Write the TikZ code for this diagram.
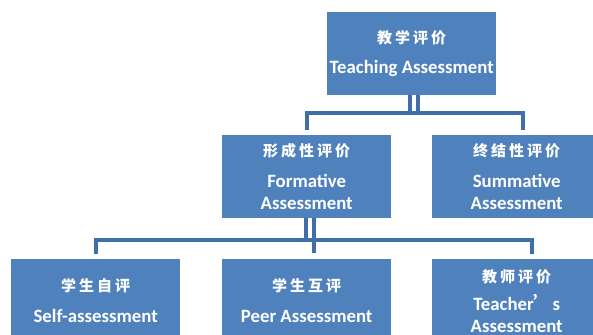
\documentclass[tikz,border=0pt]{standalone}
\usepackage{fontspec}
\setmainfont{Carlito}
\newfontfamily\cjk[LetterSpace=20]{Noto Sans CJK SC}
\usetikzlibrary{calc}
\definecolor{boxblue}{HTML}{4F81BD}
\definecolor{linkblue}{HTML}{3F6EAA}
\begin{document}
\begin{tikzpicture}[x=1pt,y=-1pt,
  box/.style={fill=boxblue, minimum width=169pt, minimum height=83pt, inner sep=0pt,
    text=white, align=center, anchor=north west,
    font=\bfseries\fontsize{18.8}{22}\selectfont},
  conn/.style={draw=linkblue, line width=3.8pt, line join=miter}]
\useasboundingbox (0,0) rectangle (593,334);
\fill[white] (0,0) rectangle (593,334);
\clip (0,0) rectangle (593,334);
% level 1
\node[box] (top) at (327,12) {{\cjk\fontsize{15}{15}\selectfont 教学评价}\\[8pt]Teaching Assessment};
% level 2
\node[box] (form) at (222,135) {{\cjk\fontsize{15}{15}\selectfont 形成性评价}\\[9pt]Formative\\Assessment};
\node[box] (summ) at (432,135) {{\cjk\fontsize{15}{15}\selectfont 终结性评价}\\[9pt]Summative\\Assessment};
% level 3
\node[box] (self) at (11,259) {{\cjk\fontsize{15}{15}\selectfont 学生自评}\\[9pt]Self-assessment};
\node[box] (peer) at (222,259) {{\cjk\fontsize{15}{15}\selectfont 学生互评}\\[9pt]Peer Assessment};
\node[box] (teach) at (432,259) {{\cjk\fontsize{15}{15}\selectfont 教师评价}\\[6pt]Teacher{\cjk ’}s\\Assessment};
% hubs
\coordinate (h1) at (413.5,113);
\coordinate (h2) at (310,240);
% connectors level 1 -> 2
\draw[conn] ([xshift=-1.5pt]top.south) -- ([xshift=-1.5pt]top.south |- h1);
\draw[conn] ([xshift=6pt]top.south) -- ([xshift=6pt]top.south |- h1);
\draw[conn] ($(form.north)+(0,-5)$) -- (form.north |- h1)
  -- ([xshift=6.5pt]summ.north |- h1) -- ($([xshift=6.5pt]summ.north)+(0,-5)$);
% connectors level 2 -> 3
\draw[conn] ([xshift=-1pt]form.south) -- ([xshift=-1pt]form.south |- h2);
\draw[conn] ([xshift=7pt]form.south) -- ($([xshift=7pt]peer.north)+(0,-6)$);
\draw[conn] ($(self.north)+(0,-5)$) -- (self.north |- h2)
  -- ([xshift=15.5pt]teach.north |- h2) -- ($([xshift=15.5pt]teach.north)+(0,-5)$);
\end{tikzpicture}
\end{document}
